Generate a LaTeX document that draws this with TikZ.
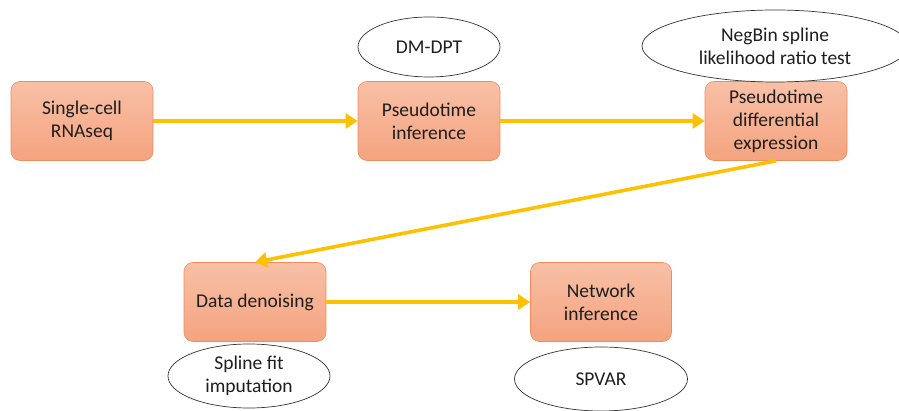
\documentclass[tikz,border=0pt]{standalone}
\usepackage{fontspec}
\setmainfont{Carlito}
\usetikzlibrary{shapes.geometric,arrows.meta}
\definecolor{boxtop}{RGB}{248,192,166}
\definecolor{boxbot}{RGB}{244,163,127}
\definecolor{boxedge}{RGB}{240,140,90}
\definecolor{arrowc}{RGB}{255,192,0}
\definecolor{txt}{RGB}{30,30,30}
\tikzset{
  stepbox/.style={rectangle, rounded corners=9pt, draw=boxedge, line width=0.6pt,
    top color=boxtop, bottom color=boxbot, minimum width=142pt, minimum height=79pt,
    align=center, inner sep=2pt, text=txt, font=\fontsize{19.5}{23}\selectfont},
  method/.style={ellipse, draw=black!80, line width=0.7pt, fill=white, align=center,
    inner sep=0pt, text=txt, font=\fontsize{19.5}{23}\selectfont},
  flow/.style={draw=arrowc, line width=3.6pt, -{Triangle[length=12pt,width=15pt]}, shorten >=0pt},
}
\begin{document}
\begin{tikzpicture}[x=1pt,y=-1pt]
\useasboundingbox (0,0) rectangle (899,411);
\begin{scope}
\clip (0,0) rectangle (899,411);
\node[stepbox] (sc) at (82,121) {Single-cell\\RNAseq};
\node[stepbox] (pi) at (429,121) {Pseudotime\\inference};
\node[stepbox] (pde) at (776,121) {Pseudotime\\differential\\expression};
\node[stepbox, minimum width=142pt] (dd) at (255,302) {Data denoising};
\node[stepbox, minimum width=141pt] (ni) at (601,302) {Network\\inference};
\node[method, minimum width=142pt, minimum height=60pt] (dm) at (429,47) {DM-DPT};
\node[method, minimum width=266pt, minimum height=72pt] (nb) at (775,46) {NegBin spline\\likelihood ratio test};
\node[method, minimum width=162pt, minimum height=64pt] (sf) at (249,376) {Spline fit\\imputation};
\node[method, minimum width=173pt, minimum height=64pt] (sp) at (601,379) {SPVAR};
\draw[flow] (sc.east) -- (pi.west);
\draw[flow] (pi.east) -- (pde.west);
\draw[flow] (pde.south) -- (dd.north);
\draw[flow] (dd.east) -- (ni.west);
\end{scope}
\end{tikzpicture}
\end{document}
